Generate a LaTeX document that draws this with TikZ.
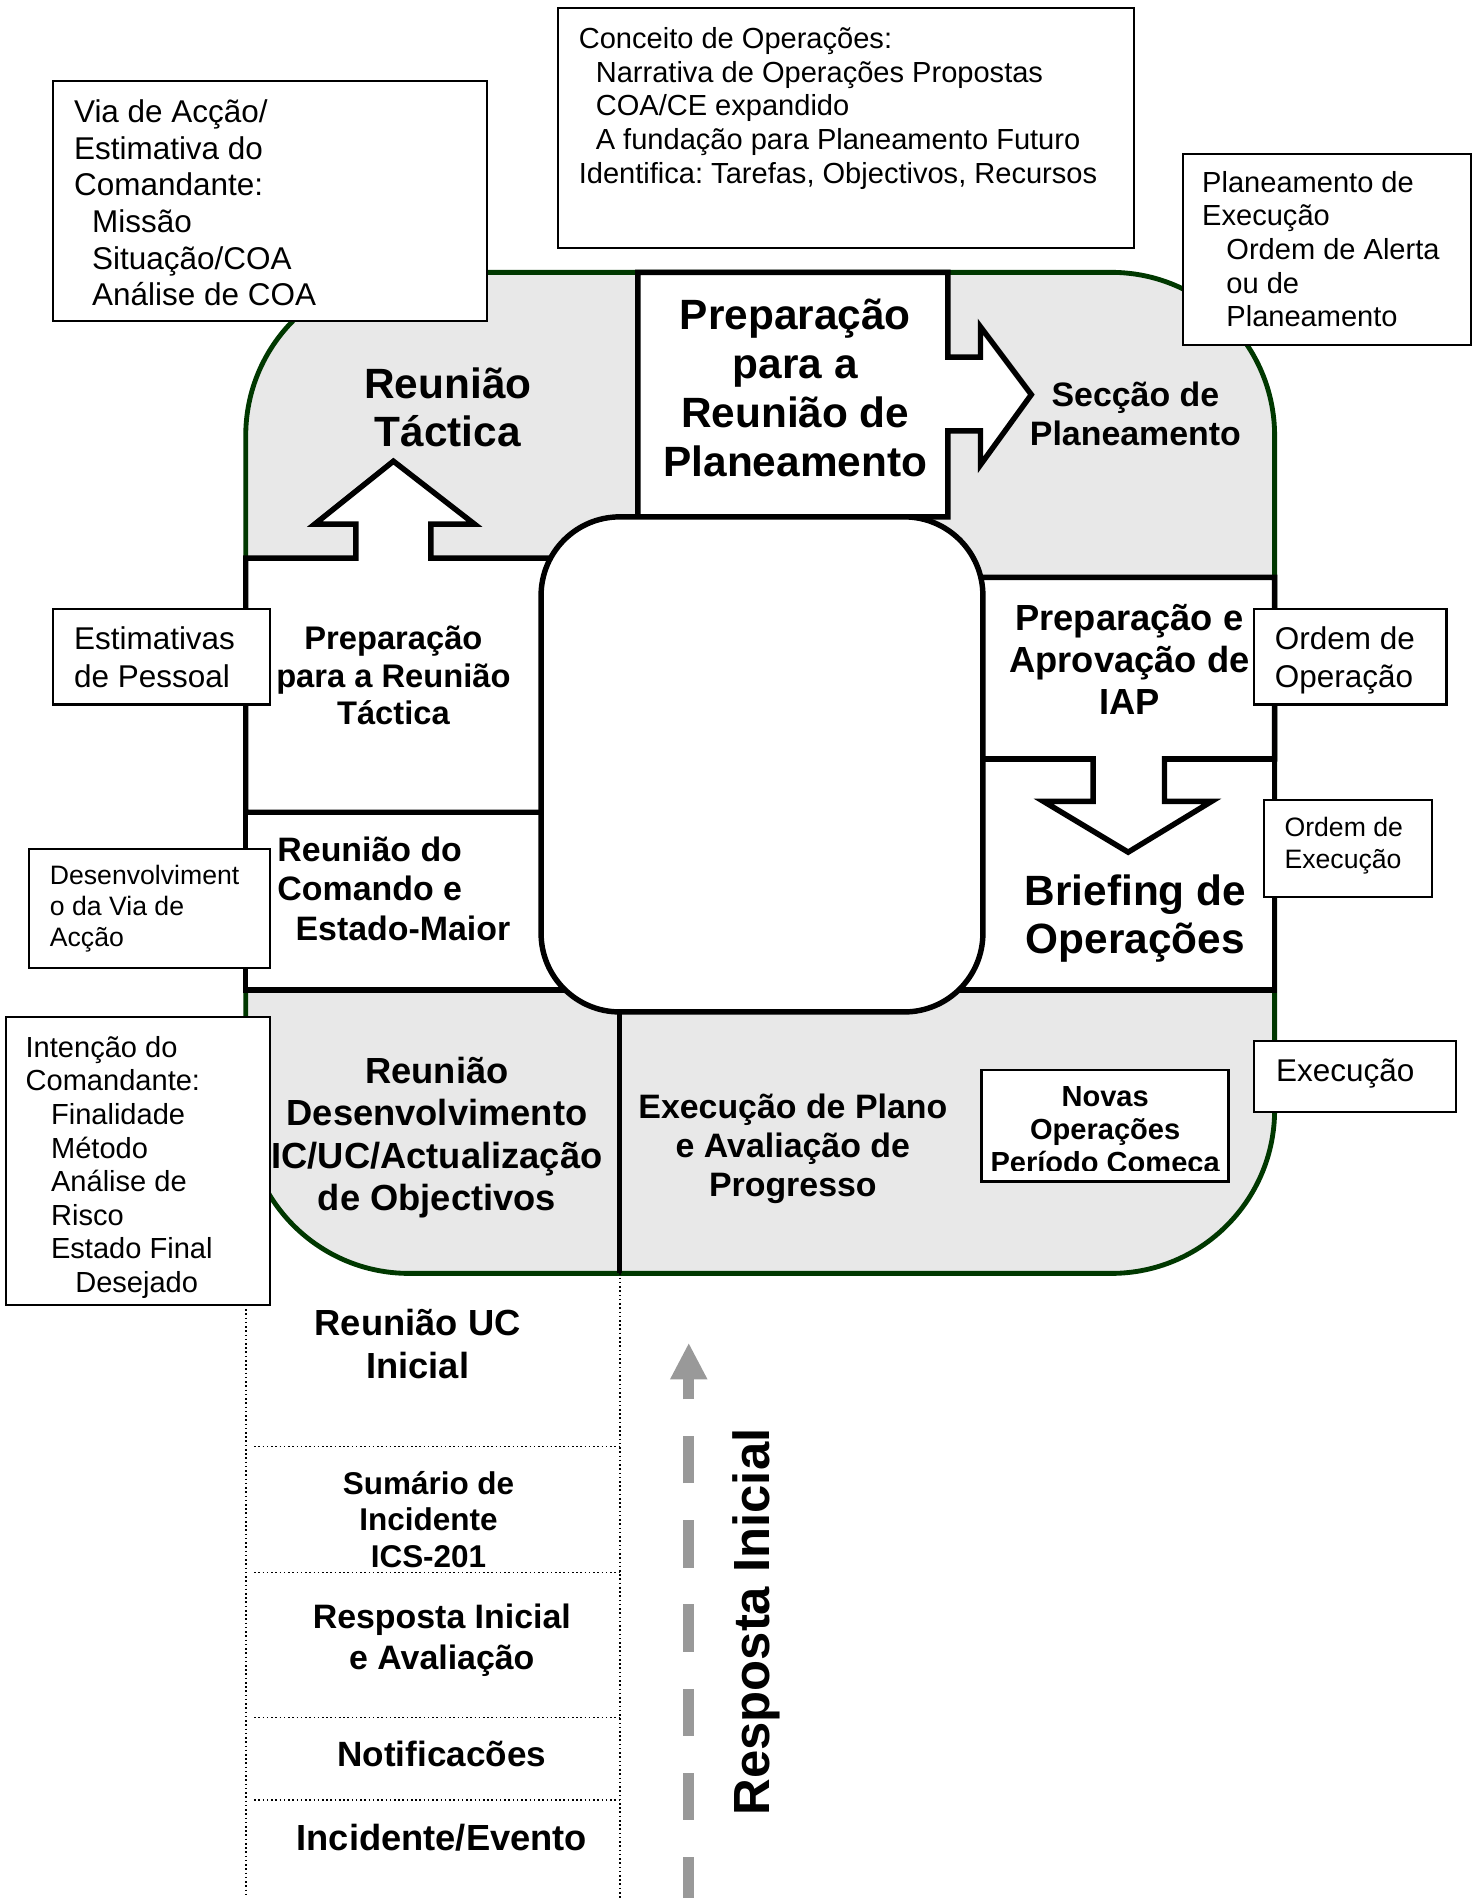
\documentclass[tikz,border=0pt]{standalone}
\usepackage{fontspec}
\setmainfont{Liberation Sans}
\setlength{\lineskiplimit}{-200pt}
\frenchspacing
\newcommand\setfs[2]{\fontsize{#1}{#2}\selectfont}
\definecolor{regionfill}{RGB}{232,232,232}
\definecolor{regionline}{RGB}{0,56,0}
\definecolor{arrowgray}{RGB}{153,153,153}
\tikzset{
  region/.style={fill=regionfill, draw=regionline, line width=4pt, rounded corners=135pt},
  heavy/.style={draw=black, fill=white, line width=4.5pt, line join=miter},
  notebox/.style={draw=black, fill=white, line width=1.7pt},
  ntxt/.style={anchor=north west, inner sep=0pt, align=left},
  btxt/.style={anchor=north, inner sep=0pt, align=center},
  dotline/.style={line width=1.3pt, dash pattern=on 1.3pt off 2.2pt},
}
\begin{document}
\frenchspacing
\begin{tikzpicture}[x=1pt,y=-1pt]
\useasboundingbox (0,0) rectangle (1218,1568);

% main rounded region
\draw[region] (203,225) rectangle (1053,1052);

% left boxes
\draw[heavy] (203,671) rectangle (490,818);
\draw[heavy] (203,461) -- (294,461) -- (294,433) -- (260,433) -- (325,381) -- (392,433)
   -- (356,433) -- (356,461) -- (490,461) -- (490,671) -- (203,671) -- cycle;
% top box with arrow to the right
\draw[heavy] (527,427) -- (527,225) -- (783,225) -- (783,295) -- (810,295) -- (810,270)
   -- (852,326) -- (810,384) -- (810,356) -- (783,356) -- (783,427) -- cycle;
% right boxes
\draw[heavy] (770,627) rectangle (1053,818);
\draw[heavy] (770,477) -- (1053,477) -- (1053,627) -- (962,627) -- (962,662) -- (1001,662)
   -- (932,704) -- (862,662) -- (903,662) -- (903,627) -- (770,627) -- cycle;
% centre rounded rectangle
\draw[heavy, rounded corners=65pt] (447,427) rectangle (812,836);
% lower divider
\coordinate (divtop) at (512,836);
\coordinate (divbot) at (512,1052);
\draw[black, line width=4.5pt] (divtop) -- (divbot);

% dotted column
\coordinate (dl1) at (203,1078); \coordinate (dl2) at (203,1568);
\coordinate (dr1) at (512,1052); \coordinate (dr2) at (512,1568);
\draw[dotline] (dl1) -- (dl2);
\draw[dotline] (dr1) -- (dr2);
\foreach \yy/\nm in {1195/a,1299/b,1419/c,1487/d}{
  \coordinate (h\nm1) at (210,\yy); \coordinate (h\nm2) at (512,\yy);
  \draw[dotline] (h\nm1) -- (h\nm2);
}

% bold texts inside the region
\node[btxt, font=\setfs{35}{40.5}\bfseries] (prepplan) at (657,244)
  {\strut Preparação\\\strut para a\\\strut Reunião de\\\strut Planeamento};
\node[btxt, font=\setfs{35}{40}\bfseries] (tactica) at (370,300.6)
  {\strut Reunião\\\strut Táctica};
\node[btxt, font=\setfs{28}{32}\bfseries] (seccao) at (938,313.6)
  {\strut Secção de\\\strut Planeamento};
\node[btxt, font=\setfs{27}{31}\bfseries] (preptact) at (325,515)
  {\strut Preparação\\\strut para a Reunião\\\strut Táctica};
\node[ntxt, font=\setfs{28}{33}\bfseries] (comando) at (229,688)
  {\strut Reunião do\\\strut Comando e\\\strut\hspace*{15pt}Estado-Maior};
\node[btxt, font=\setfs{30}{34.5}\bfseries] (iap) at (933,496.6)
  {\strut Preparação e\\\strut Aprovação de\\\strut IAP};
\node[btxt, font=\setfs{35}{39.5}\bfseries] (briefing) at (938,720)
  {\strut Briefing de\\\strut Operações};
\node[btxt, font=\setfs{30}{35}\bfseries] (desenvobj) at (361,870.3)
  {\strut Reunião\\\strut Desenvolvimento\\\strut IC/UC/Actualização\\\strut de Objectivos};
\node[btxt, font=\setfs{28}{32}\bfseries] (execplano) at (655,901.6)
  {\strut Execução de Plano\\\strut e Avaliação de\\\strut Progresso};

% lower column texts
\node[btxt, font=\setfs{30}{36}\bfseries] (ucinicial) at (345,1077.6)
  {\strut Reunião UC\\\strut Inicial};
\node[btxt, font=\setfs{26}{30}\bfseries] (sumario) at (354,1213.4)
  {\strut Sumário de\\\strut Incidente\\\strut ICS-201};
\node[btxt, font=\setfs{28}{34}\bfseries] (respaval) at (365,1321.2)
  {\strut Resposta Inicial\\\strut e Avaliação};
\begin{scope}
  \clip (210,1420) rectangle (512,1459);
  \node[btxt, font=\setfs{29}{33}\bfseries] (notif) at (365,1436) {\strut Notificacões};
\end{scope}
\node[btxt, font=\setfs{30}{35}\bfseries] (incidente) at (365,1504.3)
  {\strut Incidente/Evento};

% note boxes
\draw[notebox] (44,67) rectangle (402,265);
\node[ntxt, font=\setfs{26}{30.3}] (via) at (61,79.7)
  {\strut Via de Acção/\\\strut Estimativa do\\\strut Comandante:\\
   \strut\hspace*{15pt}Missão\\\strut\hspace*{15pt}Situação/COA\\\strut\hspace*{15pt}Análise de COA};

\draw[notebox] (461,7) rectangle (937,205);
\node[ntxt, font=\setfs{24}{28}] (conceito) at (478,20)
  {\strut Conceito de Operações:\\
   \strut\hspace*{14pt}Narrativa de Operações Propostas\\
   \strut\hspace*{14pt}COA/CE expandido\\
   \strut\hspace*{14pt}A fundação para Planeamento Futuro\\
   \strut Identifica: Tarefas, Objectivos, Recursos};

\draw[notebox] (977,127) rectangle (1215,285);
\node[ntxt, font=\setfs{24}{27.8}] (planexec) at (993,139)
  {\strut Planeamento de\\\strut Execução\\\strut\hspace*{20pt}Ordem de Alerta\\
   \strut\hspace*{20pt}ou de\\\strut\hspace*{20pt}Planeamento};

\draw[notebox] (44,503) rectangle (223,582);
\node[ntxt, font=\setfs{26}{31}] (estim) at (61,514.7)
  {\strut Estimativas\\\strut de Pessoal};

\draw[notebox] (1036,503) rectangle (1195,582);
\node[ntxt, font=\setfs{26}{31}] (ordop) at (1053,514.7)
  {\strut Ordem de\\\strut Operação};

\draw[notebox] (1044,661) rectangle (1183,741);
\node[ntxt, font=\setfs{22}{26}] (ordex) at (1061,672.8)
  {\strut Ordem de\\\strut Execução};

\draw[notebox] (24,701) rectangle (223,800);
\node[ntxt, font=\setfs{22}{25.5}] (desenv) at (41,713)
  {\strut Desenvolviment\\\strut o da Via de\\\strut Acção};

\draw[notebox] (5,840) rectangle (223,1078);
\node[ntxt, font=\setfs{24}{27.7}] (intencao) at (21,854)
  {\strut Intenção do\\\strut Comandante:\\\strut\hspace*{21pt}Finalidade\\
   \strut\hspace*{21pt}Método\\\strut\hspace*{21pt}Análise de\\\strut\hspace*{21pt}Risco\\
   \strut\hspace*{21pt}Estado Final\\\strut\hspace*{41pt}Desejado};

\draw[notebox] (1036,860) rectangle (1203,919);
\node[ntxt, font=\setfs{26}{30}] (execucao) at (1054,872.4) {\strut Execução};

\draw[notebox, line width=2.3pt] (811,884) rectangle (1015,976);
\begin{scope}
  \clip (811,884) rectangle (1015,967);
  \node[btxt, font=\setfs{24}{27.5}\bfseries] (novas) at (913,894.3)
    {\strut Novas\\\strut Operações\\\strut Período Comeca};
\end{scope}

% grey dashed arrow and vertical label
\coordinate (gbot) at (569,1568);
\coordinate (gneck) at (569,1139);
\coordinate (gtip) at (569,1110);
\draw[arrowgray, line width=9pt, dash pattern=on 39pt off 30.5pt, dash phase=5pt] (gbot) -- (gneck);
\fill[arrowgray] (gtip) -- ++(15.5,29.5) -- ++(-31,0) -- cycle;
\node[font=\setfs{42}{48}\bfseries, rotate=90, anchor=base, inner sep=0pt] (respinicial)
  at (636,1340) {Resposta Inicial};
\end{tikzpicture}
\end{document}
